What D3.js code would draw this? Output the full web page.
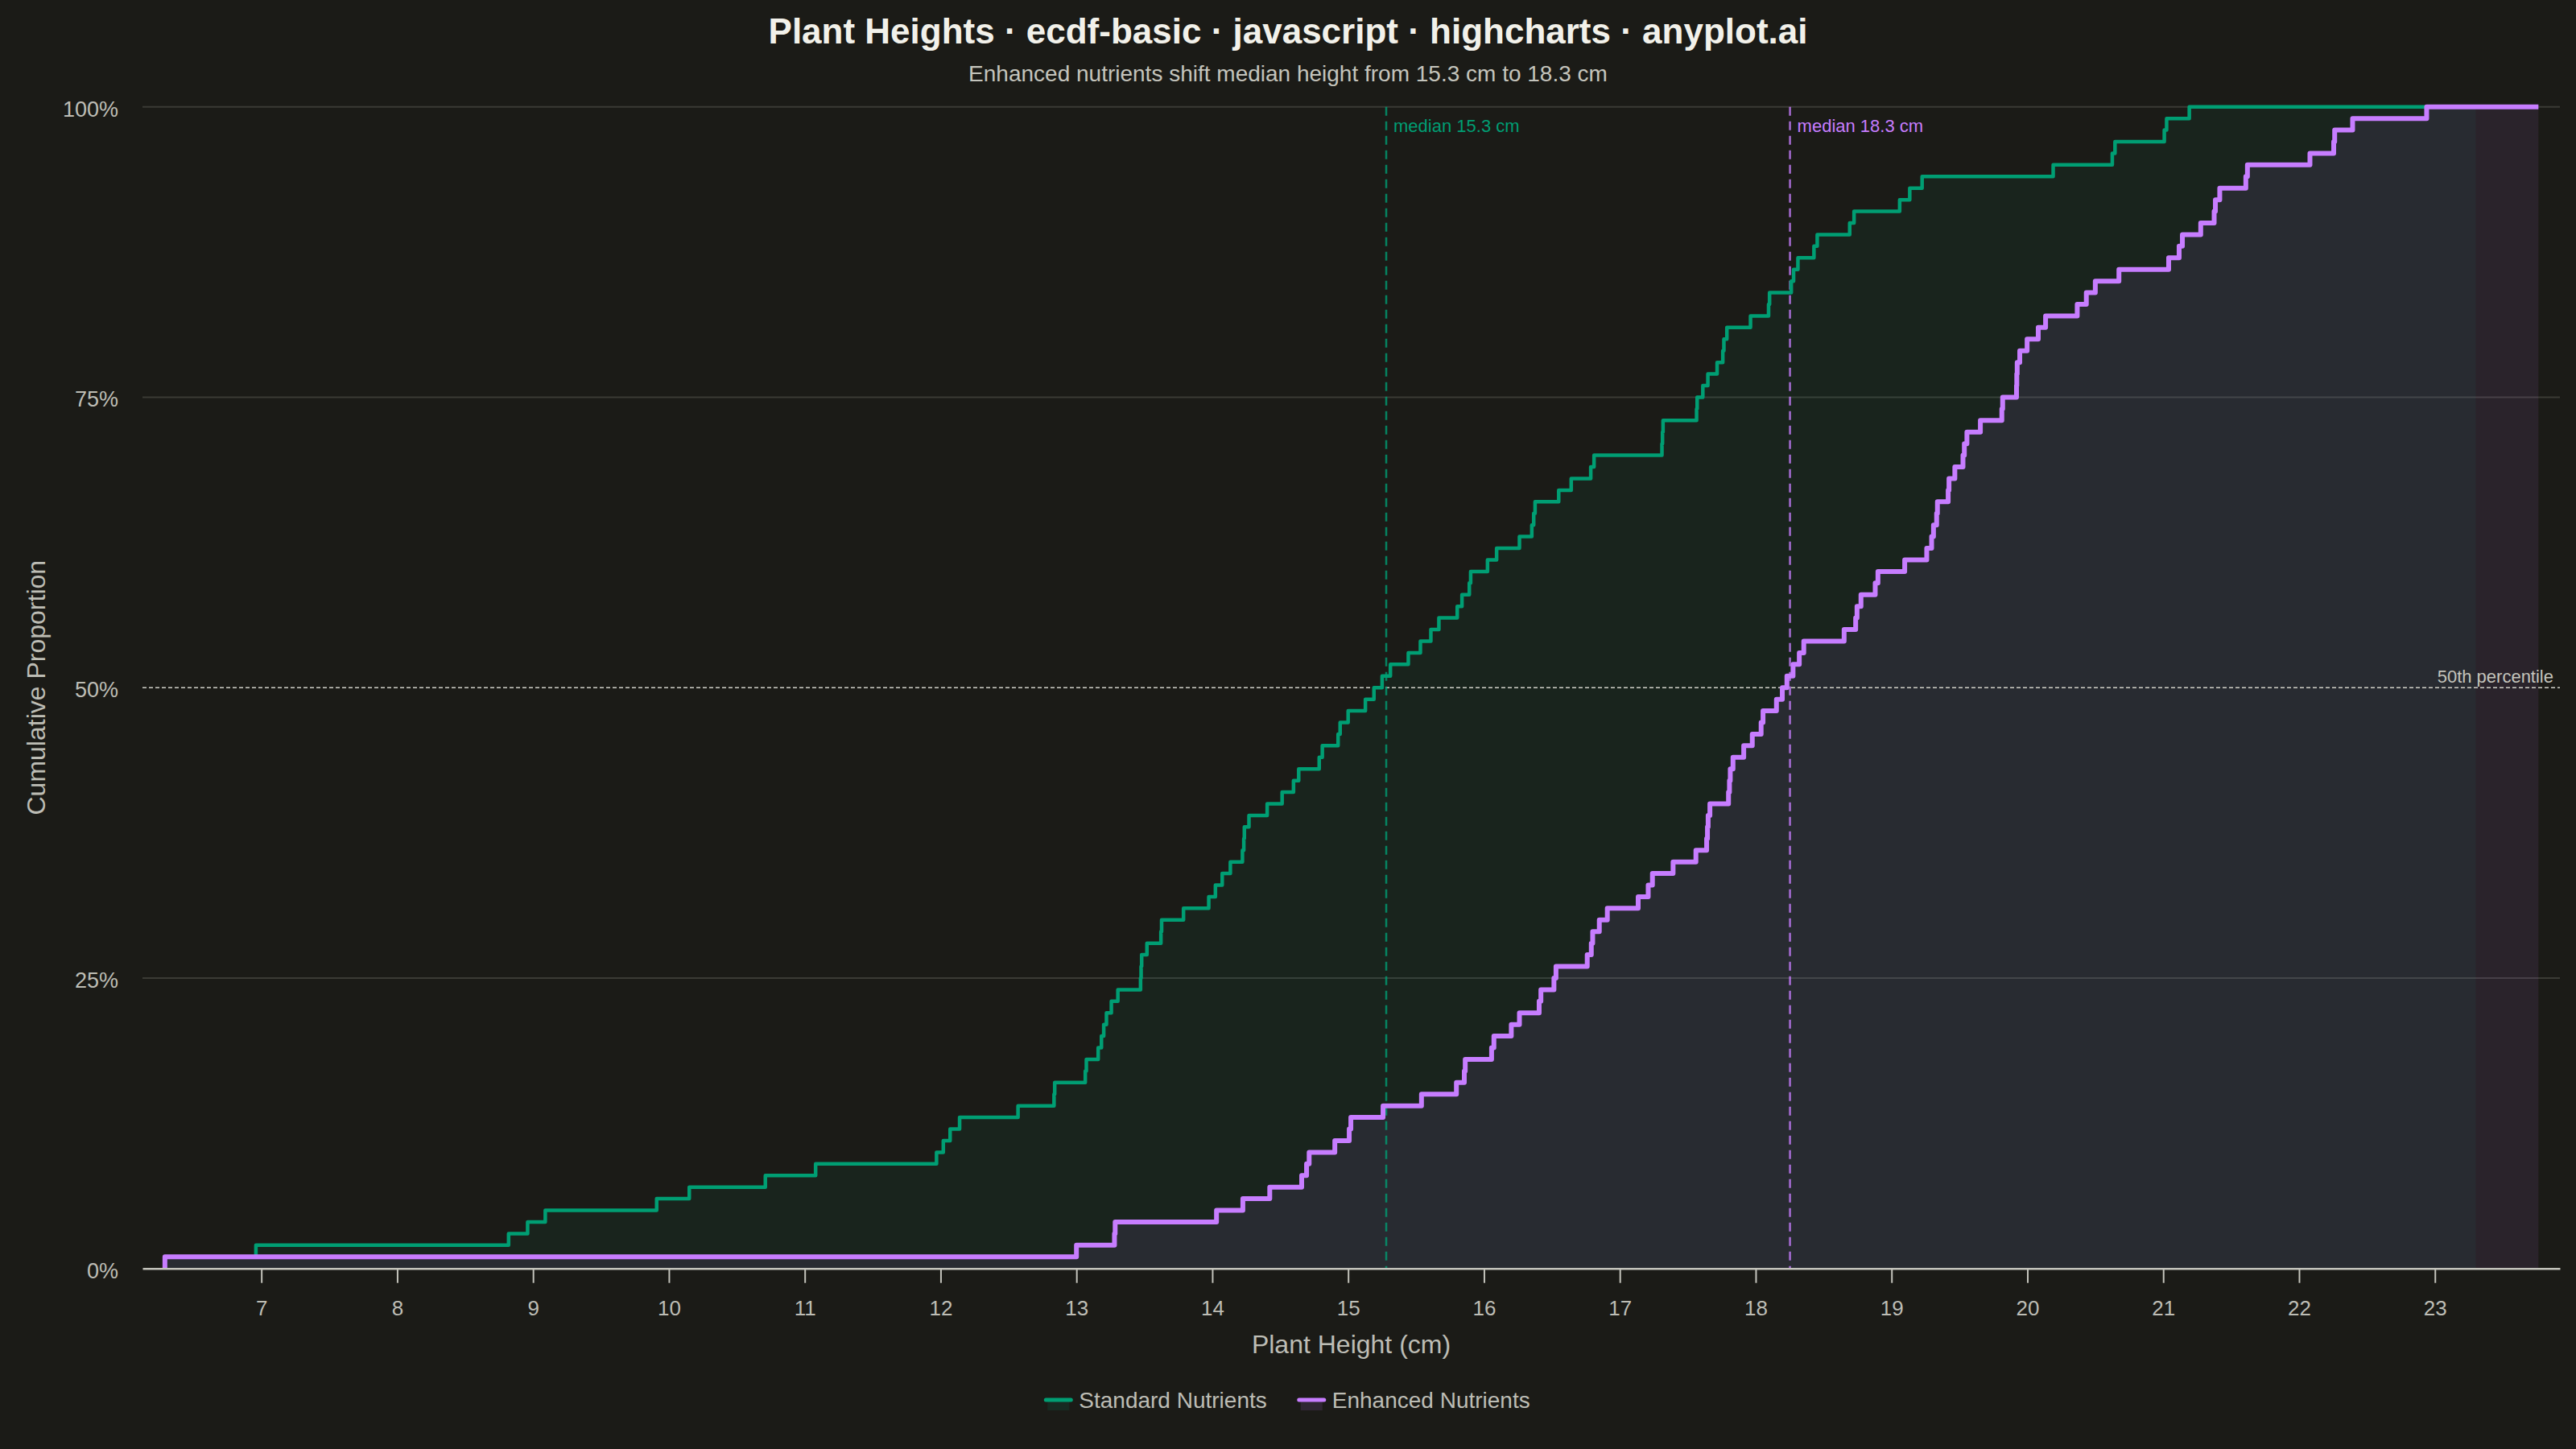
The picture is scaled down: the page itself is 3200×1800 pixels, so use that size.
<!DOCTYPE html>
<html>
<head>
<meta charset="utf-8">
<title>Plant Heights ECDF</title>
<script src="https://cdn.jsdelivr.net/npm/d3@7"></script>
<style>
    html, body {
        margin: 0;
        padding: 0;
        background: #1b1b17;
    }
    svg {
        display: block;
        font-family: "Liberation Sans", Arial, Helvetica, sans-serif;
    }
</style>
</head>
<body>
<div id="chart"></div>
<script>
/*global d3 */
"use strict";

// Sorted plant heights (cm), 100 plants per group
var standardHeights = [
    6.96, 8.82, 8.96, 9.09, 9.91, 10.15, 10.71, 11.08, 11.97, 12.02,
    12.07, 12.14, 12.57, 12.835, 12.84, 13.065, 13.073, 13.16, 13.184, 13.201,
    13.221, 13.257, 13.305, 13.472, 13.476, 13.48, 13.519, 13.622, 13.627, 13.788,
    13.974, 14.023, 14.073, 14.133, 14.222, 14.232, 14.236, 14.27, 14.404, 14.514,
    14.598, 14.636, 14.787, 14.81, 14.926, 14.941, 15.0, 15.127, 15.19, 15.25,
    15.311, 15.443, 15.532, 15.609, 15.668, 15.803, 15.838, 15.892, 15.902, 16.026,
    16.093, 16.261, 16.352, 16.366, 16.376, 16.55, 16.642, 16.786, 16.81, 17.31,
    17.314, 17.318, 17.565, 17.569, 17.611, 17.648, 17.716, 17.758, 17.766, 17.788,
    17.962, 18.095, 18.102, 18.262, 18.279, 18.311, 18.429, 18.453, 18.692, 18.724,
    19.06, 19.134, 19.225, 20.19, 20.625, 20.645, 21.008, 21.025, 21.192, 23.30
];

var enhancedHeights = [
    13.0, 13.28, 13.285, 14.031, 14.225, 14.423, 14.658, 14.694, 14.713, 14.902,
    15.008, 15.02, 15.257, 15.54, 15.797, 15.855, 15.862, 16.056, 16.073, 16.201,
    16.261, 16.406, 16.419, 16.515, 16.53, 16.76, 16.79, 16.80, 16.849, 16.908,
    17.135, 17.209, 17.24, 17.392, 17.56, 17.639, 17.645, 17.65, 17.663, 17.80,
    17.807, 17.813, 17.833, 17.912, 17.975, 18.04, 18.054, 18.153, 18.196, 18.23,
    18.275, 18.321, 18.354, 18.651, 18.736, 18.746, 18.775, 18.88, 18.90, 19.097,
    19.259, 19.295, 19.309, 19.332, 19.338, 19.417, 19.423, 19.466, 19.526, 19.536,
    19.555, 19.654, 19.812, 19.818, 19.92, 19.922, 19.925, 19.944, 19.998, 20.08,
    20.134, 20.367, 20.434, 20.50, 20.674, 21.04, 21.117, 21.141, 21.276, 21.375,
    21.384, 21.416, 21.608, 21.62, 22.08, 22.255, 22.262, 22.394, 22.939, 23.762
];

// Both curves start from the same anchor at 0%
var ecdfStart = 6.29;

var seriesNames = ["Standard Nutrients", "Enhanced Nutrients"];
var xTickValues = [7, 8, 9, 10, 11, 12, 13, 14, 15, 16, 17, 18, 19, 20, 21, 22, 23];
var yTickValues = [0, 0.25, 0.5, 0.75, 1];

var config = {
    w: 3200,
    h: 1800,
    left: 177,
    right: 3180,
    top: 132.7,
    bottom: 1575.7,
    xMin: 6.125,
    xMax: 23.92,
    bg: "#1b1b17",
    text: "#bdbdb5",
    grid: "#3b3b35",
    colors: ["#009e73", "#c77dff"],
    fillOpacity: [0.07, 0.09],
    lineWidth: [4.5, 6]
};

var svg,
    x,
    y,
    series,
    areaGen,
    lineGen,
    legend,
    offset;

// Turn sorted samples into ECDF points (vertical step first, like step:right)
function toEcdf(values) {
    var n = values.length,
        pts = [[ecdfStart, 0]],
        i;
    for (i = 0; i < n; i++) {
        pts.push([values[i], (i + 1) / n]);
    }
    return pts;
}

series = [standardHeights, enhancedHeights].map(function(values, i) {
    return {
        name: seriesNames[i],
        color: config.colors[i],
        points: toEcdf(values),
        median: d3.median(values)
    };
});

x = d3.scaleLinear()
    .domain([config.xMin, config.xMax])
    .range([config.left, config.right]);

y = d3.scaleLinear()
    .domain([0, 1])
    .range([config.bottom, config.top]);

svg = d3.select("#chart")
    .append("svg")
    .attr("width", config.w)
    .attr("height", config.h);

svg.append("rect")
    .attr("width", config.w)
    .attr("height", config.h)
    .attr("fill", config.bg);

//Title and subtitle
svg.append("text")
    .attr("x", config.w / 2)
    .attr("y", 54)
    .attr("text-anchor", "middle")
    .attr("font-size", "44px")
    .attr("font-weight", "bold")
    .attr("fill", "#f2f1ea")
    .text("Plant Heights · ecdf-basic · javascript · highcharts · anyplot.ai");

svg.append("text")
    .attr("x", config.w / 2)
    .attr("y", 101)
    .attr("text-anchor", "middle")
    .attr("font-size", "28px")
    .attr("fill", "#c4c4bc")
    .text("Enhanced nutrients shift median height from " +
        series[0].median.toFixed(1) + " cm to " +
        series[1].median.toFixed(1) + " cm");

//Grid lines (0% is drawn by the axis, 50% by the reference line)
svg.append("g")
    .selectAll("line")
    .data(yTickValues.filter(function(d) {
        return d !== 0 && d !== 0.5;
    }))
    .enter()
    .append("line")
    .attr("x1", config.left)
    .attr("x2", config.right)
    .attr("y1", function(d) {
        return y(d);
    })
    .attr("y2", function(d) {
        return y(d);
    })
    .attr("stroke", config.grid)
    .attr("stroke-width", 2);

areaGen = d3.area()
    .curve(d3.curveStepBefore)
    .x(function(d) {
        return x(d[0]);
    })
    .y0(y(0))
    .y1(function(d) {
        return y(d[1]);
    });

lineGen = d3.line()
    .curve(d3.curveStepBefore)
    .x(function(d) {
        return x(d[0]);
    })
    .y(function(d) {
        return y(d[1]);
    });

//Filled areas under each curve
svg.append("g")
    .selectAll("path")
    .data(series)
    .enter()
    .append("path")
    .attr("d", function(d) {
        return areaGen(d.points);
    })
    .attr("fill", function(d) {
        return d.color;
    })
    .attr("fill-opacity", function(d, i) {
        return config.fillOpacity[i];
    });

//50th percentile reference
svg.append("line")
    .attr("x1", config.left)
    .attr("x2", config.right)
    .attr("y1", y(0.5))
    .attr("y2", y(0.5))
    .attr("stroke", "#cfcfc7")
    .attr("stroke-width", 1.6)
    .attr("stroke-dasharray", "5 3");

svg.append("text")
    .attr("x", config.right - 8)
    .attr("y", y(0.5) - 6)
    .attr("text-anchor", "end")
    .attr("font-size", "22px")
    .attr("fill", "#c4c4bc")
    .text("50th percentile");

//Median markers
svg.append("g")
    .selectAll("line")
    .data(series)
    .enter()
    .append("line")
    .attr("x1", function(d) {
        return x(d.median);
    })
    .attr("x2", function(d) {
        return x(d.median);
    })
    .attr("y1", y(1))
    .attr("y2", y(0))
    .attr("stroke", function(d) {
        return d.color;
    })
    .attr("stroke-opacity", 0.8)
    .attr("stroke-width", 2.5)
    .attr("stroke-dasharray", "11 7");

svg.append("g")
    .selectAll("text")
    .data(series)
    .enter()
    .append("text")
    .attr("x", function(d) {
        return x(d.median) + 9;
    })
    .attr("y", 164)
    .attr("font-size", "22px")
    .attr("fill", function(d) {
        return d.color;
    })
    .text(function(d) {
        return "median " + d.median.toFixed(1) + " cm";
    });

//ECDF step lines
svg.append("g")
    .selectAll("path")
    .data(series)
    .enter()
    .append("path")
    .attr("d", function(d) {
        return lineGen(d.points);
    })
    .attr("fill", "none")
    .attr("stroke", function(d) {
        return d.color;
    })
    .attr("stroke-width", function(d, i) {
        return config.lineWidth[i];
    })
    .attr("stroke-linejoin", "round");

//X axis
svg.append("g")
    .attr("transform", "translate(0," + config.bottom + ")")
    .call(d3.axisBottom(x)
        .tickValues(xTickValues)
        .tickSize(18)
        .tickSizeOuter(0)
        .tickPadding(22)
        .tickFormat(d3.format("d")))
    .call(function(g) {
        g.select(".domain")
            .attr("stroke", "#c4c4bc")
            .attr("stroke-width", 2.5);
        g.selectAll(".tick line")
            .attr("stroke", "#c4c4bc")
            .attr("stroke-width", 2);
        g.selectAll(".tick text")
            .attr("fill", config.text)
            .attr("font-size", "26px")
            .attr("font-family", "Liberation Sans, Arial, sans-serif");
    });

svg.append("text")
    .attr("x", (config.left + config.right) / 2)
    .attr("y", 1681)
    .attr("text-anchor", "middle")
    .attr("font-size", "32px")
    .attr("fill", config.text)
    .text("Plant Height (cm)");

//Y axis labels
svg.append("g")
    .attr("transform", "translate(" + config.left + ",0)")
    .call(d3.axisLeft(y)
        .tickValues(yTickValues)
        .tickSize(0)
        .tickPadding(30)
        .tickFormat(d3.format(".0%")))
    .call(function(g) {
        g.select(".domain").remove();
        g.selectAll(".tick text")
            .attr("fill", config.text)
            .attr("font-size", "27px")
            .attr("dy", "0.42em")
            .attr("font-family", "Liberation Sans, Arial, sans-serif");
    });

svg.append("text")
    .attr("transform", "translate(56," + y(0.5) + ") rotate(-90)")
    .attr("text-anchor", "middle")
    .attr("font-size", "32px")
    .attr("fill", config.text)
    .text("Cumulative Proportion");

//Legend
legend = svg.append("g");

offset = 0;
series.forEach(function(d, i) {
    var item = legend.append("g")
        .attr("transform", "translate(" + offset + ",0)");

    item.append("rect")
        .attr("x", 2)
        .attr("y", 1)
        .attr("width", 27)
        .attr("height", 12)
        .attr("fill", d.color)
        .attr("fill-opacity", 0.12);

    item.append("line")
        .attr("x1", 0)
        .attr("x2", 31)
        .attr("y1", 0)
        .attr("y2", 0)
        .attr("stroke", d.color)
        .attr("stroke-width", 5)
        .attr("stroke-linecap", "round");

    item.append("text")
        .attr("x", 41)
        .attr("y", 10)
        .attr("font-size", "28px")
        .attr("fill", config.text)
        .text(d.name);

    offset += item.node().getBBox().width + 40;
});

legend.attr("transform", "translate(" +
    (config.w / 2 - (offset - 40) / 2) + ",1739)");
</script>
</body>
</html>
